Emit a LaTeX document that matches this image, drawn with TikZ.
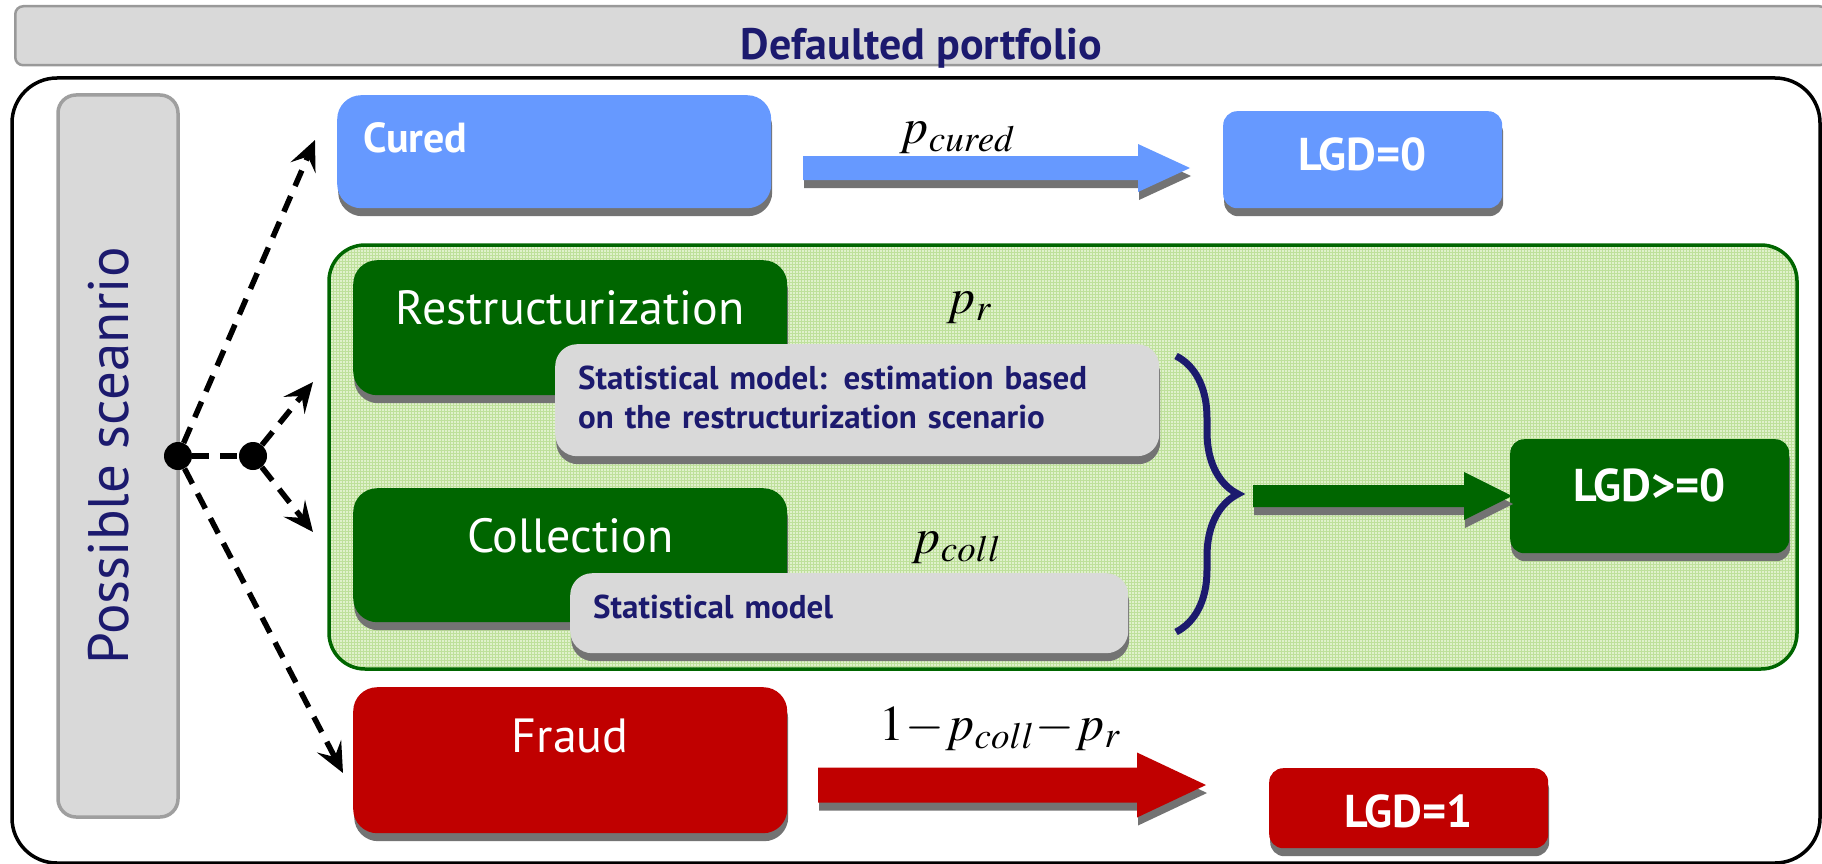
\documentclass[tikz,border=0pt]{standalone}
\usepackage{mathptmx}
\usepackage[no-math]{fontspec}
\setmainfont{PT Sans}
\usetikzlibrary{calc,shadows,patterns,decorations.pathreplacing,arrows.meta}
\definecolor{curedblue}{RGB}{102,153,255}
\definecolor{darkgreen}{RGB}{0,102,0}
\definecolor{fraudred}{RGB}{192,0,0}
\definecolor{boxgray}{RGB}{217,217,217}
\definecolor{navy}{RGB}{28,26,110}
\definecolor{lightgreen}{RGB}{224,241,204}
\definecolor{gridgreen}{RGB}{190,224,155}
% block arrow: style, start, tip, half shaft, half head, head length
\newcommand{\bigarrow}[6]{\fill[#1] ($(#2)+(0,#4)$) -- ($(#3)+(-#6,#4)$) -- ($(#3)+(-#6,#5)$) -- (#3) -- ($(#3)+(-#6,-#5)$) -- ($(#3)+(-#6,-#4)$) -- ($(#2)+(0,-#4)$) -- cycle;}
\tikzset{
  boxshadow/.style={drop shadow={shadow xshift=1pt,shadow yshift=-8pt,fill=black!55,opacity=1}},
  scen/.style={rounded corners=24pt,boxshadow,text=white,inner xsep=0pt,inner ysep=0pt,
    minimum width=434pt,anchor=north west,font=\fontsize{48}{52}\selectfont},
  lgd/.style={rounded corners=14pt,boxshadow,text=white,inner sep=0pt,
    minimum width=279pt,anchor=north west,font=\bfseries\fontsize{46}{50}\selectfont},
  statbox/.style={fill=boxgray,rounded corners=22pt,boxshadow,text=navy,inner xsep=23pt,
    inner ysep=0pt,anchor=north west,align=left,font=\bfseries\fontsize{33}{39}\selectfont},
  scenarrow/.style={dash pattern=on 17pt off 11pt,line width=5.5pt},
  splitdot/.style={circle,fill=black,minimum size=28pt,inner sep=0pt},
  plabel/.style={anchor=base west,inner sep=0pt,font=\fontsize{50}{54}\selectfont},
}
\begin{document}
\begin{tikzpicture}[x=1pt,y=-1pt]
\useasboundingbox (0,0) rectangle (1822,864);
% header and frame
\node[fill=boxgray,draw=gray!80,line width=2.5pt,rounded corners=8pt,anchor=north west,
  minimum width=1812pt,inner sep=0pt,text height=53pt,text depth=6pt,text=navy,
  font=\bfseries\fontsize{44}{48}\selectfont] (portfolio) at (14,5) {Defaulted portfolio};
\draw[line width=3.5pt,rounded corners=45pt] (12,78) rectangle (1820,863);
\node[fill=boxgray,draw=gray!75,line width=3.5pt,rounded corners=18pt,rotate=90,
  minimum width=722pt,minimum height=120pt,inner sep=0pt,text height=30pt,text depth=10pt,
  text=navy,font=\fontsize{57}{60}\selectfont] (possible) at (118,456) {Possible sceanrio};
% green area
\draw[darkgreen,line width=3.5pt,rounded corners=36pt,preaction={fill=lightgreen},
  pattern=grid,pattern color=gridgreen] (329,245) rectangle (1797,669);

% scenario split
\node[splitdot] (split1) at (178,456) {};
\node[splitdot] (split2) at (253,456) {};
\coordinate (tcured) at (315,140);
\coordinate (trest) at (313,382);
\coordinate (tcoll) at (313,532);
\coordinate (tfraud) at (343,773);
\draw[scenarrow] (split1) -- (split2);
\draw[scenarrow,-{Stealth[length=30pt,width=27pt,inset=12pt]}] (split1) -- (tcured);
\draw[scenarrow,-{Stealth[length=30pt,width=27pt,inset=12pt]}] (split1) -- (tfraud);
\draw[scenarrow,-{Stealth[length=30pt,width=27pt,inset=12pt]}] (split2) -- (trest);
\draw[scenarrow,-{Stealth[length=30pt,width=27pt,inset=12pt]}] (split2) -- (tcoll);

% scenarios
\node[scen,fill=curedblue,inner xsep=26pt,text width=382pt,align=left,text height=57pt,
  text depth=56pt,font=\bfseries\fontsize{42}{46}\selectfont] (cured) at (337,95) {Cured};
\node[scen,fill=darkgreen,text height=64pt,text depth=71pt] (restr) at (353,260) {Restructurization};
\node[scen,fill=darkgreen,text height=64pt,text depth=70pt] (coll) at (353,488) {Collection};
\node[scen,fill=fraudred,text height=65pt,text depth=81pt] (fraud) at (353,687) {Fraud};
\node[statbox,text width=558pt,text height=45pt,text depth=67pt] (restrmodel) at (555,344)
  {Statistical model: estimation based\\on the restructurization scenario};
\node[statbox,text width=512pt,text height=45pt,text depth=35pt] (collmodel) at (570,573)
  {Statistical model};

% results
\node[lgd,fill=curedblue,text height=59pt,text depth=38pt] (lgd0) at (1223,111) {LGD=0};
\node[lgd,fill=darkgreen,text height=62pt,text depth=52pt] (lgdpos) at (1510,439) {LGD>=0};
\node[lgd,fill=fraudred,text height=59pt,text depth=21pt] (lgd1) at (1269,768) {LGD=1};

\bigarrow{curedblue,boxshadow}{803,168}{1190,168}{12}{24}{52}
\bigarrow{darkgreen,boxshadow}{1253,496}{1512,496}{11}{24}{48}
\bigarrow{fraudred,boxshadow}{818,785}{1206,785}{17.5}{32.5}{69}
\draw[navy,line width=7pt,decorate,decoration={brace,amplitude=62pt}] (1176,356) -- (1176,632);

% probabilities
\node[plabel] (pcured) at (900,143) {$p_{cured}$};
\node[plabel] (prestr) at (947,313) {$p_r$};
\node[plabel] (pcoll) at (912,553) {$p_{coll}$};
\node[plabel] (pfraud) at (879,740) {$1\mkern-2mu-\mkern-2mu p_{coll}\mkern-2mu-\mkern-2mu p_r$};
\end{tikzpicture}
\end{document}
